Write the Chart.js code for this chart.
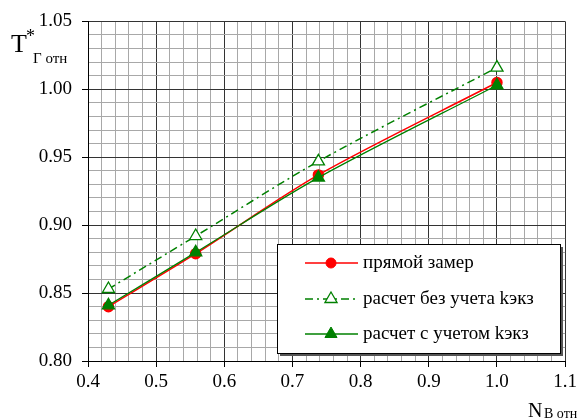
<!DOCTYPE html>
<html>
<head>
<meta charset="utf-8">
<script src="https://cdn.jsdelivr.net/npm/chart.js@4.4.0/dist/chart.umd.min.js"></script>
<style>
  html, body { margin: 0; padding: 0; background: #fff; }
  #wrap { width: 581px; height: 418px; position: relative; }
</style>
</head>
<body>
<div id="wrap"><canvas id="tChart"></canvas></div>
<script>
const nOtn = [0.43, 0.558, 0.738, 1.0];
const directMeasure = [0.840, 0.879, 0.937, 1.005];
const calcWithoutK = [0.853, 0.892, 0.947, 1.016];
const calcWithK = [0.841, 0.880, 0.935, 1.003];

const legendLabels = ['прямой замер', 'расчет без учета kэкз', 'расчет с учетом kэкз'];

const serif = "'Liberation Serif'";
Chart.defaults.font.family = serif;

function pts(ys) {
  return nOtn.map((x, i) => ({ x: x, y: ys[i] }));
}

function isMajor(v, step) {
  const k = v / step;
  return Math.abs(k - Math.round(k)) < 1e-6;
}

// legend box inside the plot
const boxLegend = {
  id: 'boxLegend',
  afterDatasetsDraw(chart) {
    const ctx = chart.ctx;
    const x0 = 277, y0 = 244, w = 283, h = 109;
    ctx.save();
    ctx.fillStyle = '#555';
    ctx.fillRect(x0 + 3, y0 + 3, w, h);
    ctx.fillStyle = '#fff';
    ctx.fillRect(x0, y0, w, h);
    ctx.strokeStyle = '#000';
    ctx.lineWidth = 1;
    ctx.strokeRect(x0 + 0.5, y0 + 0.5, w, h);

    const rows = [263, 299, 334];
    chart.data.datasets.forEach((ds, i) => {
      const y = rows[i];
      ctx.save();
      ctx.strokeStyle = ds.borderColor;
      ctx.lineWidth = ds.borderWidth;
      ctx.setLineDash(ds.borderDash || []);
      ctx.beginPath();
      ctx.moveTo(305, y);
      ctx.lineTo(358, y);
      ctx.stroke();
      ctx.restore();

      ctx.fillStyle = ds.pointBackgroundColor;
      ctx.strokeStyle = ds.pointBorderColor;
      ctx.lineWidth = ds.pointBorderWidth || 1;
      ctx.setLineDash([]);
      Chart.helpers.drawPoint(ctx, {
        pointStyle: ds.pointStyle,
        radius: ds.pointRadius,
        borderWidth: ds.pointBorderWidth || 1
      }, 331, y);

      ctx.fillStyle = '#000';
      ctx.font = '19px ' + serif;
      ctx.textBaseline = 'middle';
      ctx.fillText(ds.label, 363, y);
    });
    ctx.restore();
  }
};

// axis titles with sub/superscripts
const axisTitles = {
  id: 'axisTitles',
  afterDraw(chart) {
    const ctx = chart.ctx;
    ctx.save();
    ctx.fillStyle = '#000';
    ctx.textBaseline = 'alphabetic';
    ctx.font = '26px ' + serif;
    ctx.fillText('T', 11, 52);
    ctx.font = '18px ' + serif;
    ctx.fillText('*', 26, 42);
    ctx.font = '15px ' + serif;
    ctx.fillText('Г отн', 33, 63);

    ctx.font = '20px ' + serif;
    ctx.fillText('N', 528, 417);
    ctx.font = '14px ' + serif;
    ctx.fillText('B отн', 544, 418);
    ctx.restore();
  }
};

const ctx = document.getElementById('tChart').getContext('2d');

new Chart(ctx, {
  type: 'scatter',
  data: {
    datasets: [
      {
        label: legendLabels[0], data: pts(directMeasure), showLine: true,
        borderColor: '#ff0000', backgroundColor: '#ff0000', borderWidth: 1.5,
        pointStyle: 'circle', pointRadius: 5, pointBackgroundColor: '#ff0000',
        pointBorderColor: '#ff0000', tension: 0.3, order: 2
      },
      {
        label: legendLabels[1], data: pts(calcWithoutK), showLine: true,
        borderColor: '#008000', backgroundColor: '#ffffff', borderWidth: 1.5,
        borderDash: [8, 4, 2, 4],
        pointStyle: 'triangle', pointRadius: 7, pointBackgroundColor: '#ffffff',
        pointBorderColor: '#008000', pointBorderWidth: 1.3, tension: 0.3, order: 3
      },
      {
        label: legendLabels[2], data: pts(calcWithK), showLine: true,
        borderColor: '#008000', backgroundColor: '#008000', borderWidth: 1.3,
        pointStyle: 'triangle', pointRadius: 7, pointBackgroundColor: '#008000',
        pointBorderColor: '#008000', tension: 0.3, order: 1
      }
    ]
  },
  options: {
    responsive: true,
    maintainAspectRatio: false,
    animation: false,
    layout: { padding: { top: 20, right: 12, left: 0, bottom: 0 } },
    plugins: { legend: { display: false }, tooltip: { enabled: false } },
    scales: {
      x: {
        type: 'linear', min: 0.4, max: 1.1,
        afterFit: s => { s.height = 57; },
        border: { color: '#000', width: 1 },
        grid: {
          color: c => isMajor(c.tick.value, 0.1) ? '#333' : '#a8a8a8',
          tickColor: c => isMajor(c.tick.value, 0.1) ? '#000' : 'rgba(0,0,0,0)',
          tickLength: 6
        },
        ticks: {
          stepSize: 0.02, autoSkip: false, maxRotation: 0, padding: 4,
          color: '#000', font: { family: serif, size: 19 },
          callback: v => isMajor(v, 0.1) ? v.toFixed(1) : ''
        }
      },
      y: {
        type: 'linear', min: 0.8, max: 1.05,
        afterFit: s => { s.width = 88; },
        border: { color: '#000', width: 1 },
        grid: {
          color: c => isMajor(c.tick.value, 0.05) ? '#333' : '#a8a8a8',
          tickColor: c => isMajor(c.tick.value, 0.05) ? '#000' : 'rgba(0,0,0,0)',
          tickLength: 6
        },
        ticks: {
          stepSize: 0.01, autoSkip: false, padding: 10,
          color: '#000', font: { family: serif, size: 19 },
          callback: v => isMajor(v, 0.05) ? v.toFixed(2) : ''
        }
      }
    }
  },
  plugins: [boxLegend, axisTitles]
});
</script>
</body>
</html>
